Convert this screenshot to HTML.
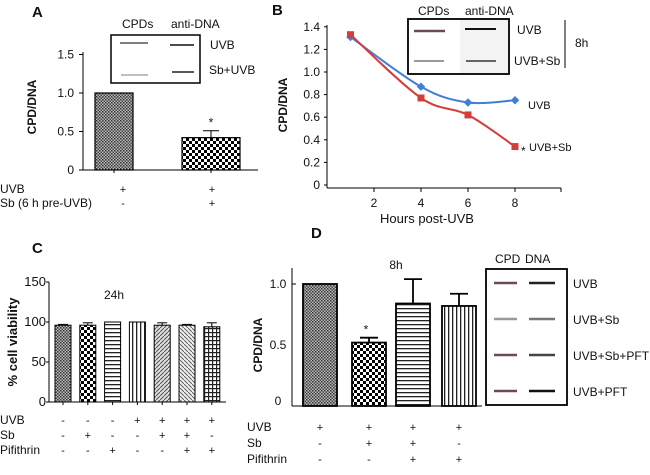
<!DOCTYPE html>
<html><head><meta charset="utf-8"><style>
body{margin:0;background:#fff}
svg{display:block;font-family:"Liberation Sans",Arial,sans-serif}
</style></head><body>
<svg id="fig" width="650" height="475" viewBox="0 0 650 475">
<defs>
<pattern id="pDense" width="3" height="3" patternUnits="userSpaceOnUse"><rect width="3" height="3" fill="#bbb"/><rect width="1.5" height="1.5" fill="#333"/><rect x="1.5" y="1.5" width="1.5" height="1.5" fill="#444"/></pattern>
<pattern id="pCheck" width="6" height="6" patternUnits="userSpaceOnUse"><rect width="6" height="6" fill="#fff"/><rect width="3" height="3" fill="#000"/><rect x="3" y="3" width="3" height="3" fill="#000"/></pattern>
<pattern id="pHor" width="4" height="4" patternUnits="userSpaceOnUse"><rect width="4" height="4" fill="#fff"/><rect y="0" width="4" height="1.3" fill="#222"/></pattern>
<pattern id="pVer" width="4" height="4" patternUnits="userSpaceOnUse"><rect width="4" height="4" fill="#fff"/><rect x="0" width="1.3" height="4" fill="#222"/></pattern>
<pattern id="pDiag" width="4" height="4" patternUnits="userSpaceOnUse"><rect width="4" height="4" fill="#ddd"/><path d="M0,4 L4,0" stroke="#555" stroke-width="1"/></pattern>
<pattern id="pDiag2" width="4" height="4" patternUnits="userSpaceOnUse"><rect width="4" height="4" fill="#eee"/><path d="M0,0 L4,4" stroke="#666" stroke-width="1"/></pattern>
<pattern id="pGrid" width="4" height="4" patternUnits="userSpaceOnUse"><rect width="4" height="4" fill="#fff"/><rect width="4" height="1.2" fill="#222"/><rect width="1.2" height="4" fill="#222"/></pattern>
</defs>
<g id="A"></g>
<g id="B"></g>
<g id="C"></g>
<g id="D"></g>
</svg>
<script>
// Panel A data
const aValues = [1.0, 0.42];
const aErrors = [0, 0.51];
const aTicks = [0, 0.5, 1.0, 1.5];
const aTickLabels = ["0", "0.5", "1.0", "1.5"];
// Panel B data
const bHours = [1, 4, 6, 8];
const bUVB = [1.31, 0.87, 0.73, 0.75];
const bUVBSb = [1.33, 0.77, 0.62, 0.34];
const bYTicks = [0, 0.2, 0.4, 0.6, 0.8, 1.0, 1.2, 1.4];
const bYTickLabels = ["0", "0.2", "0.4", "0.6", "0.8", "1.0", "1.2", "1.4"];
const bXTicks = [2, 4, 6, 8];
// Panel C data
const cValues = [96, 96, 100, 100, 96, 96, 94];
const cErrTop = [97, 99, 100, 100, 99, 97, 99];
const cTicks = [0, 50, 100, 150];
const cUVB = ["-", "-", "-", "+", "+", "+", "+"];
const cSb = ["-", "+", "-", "-", "+", "+", "-"];
const cPif = ["-", "-", "+", "-", "-", "+", "+"];
// Panel D data
const dValues = [1.0, 0.52, 0.84, 0.82];
const dErrTop = [1.0, 0.56, 1.04, 0.92];
const dTicks = [0, 0.5, 1.0];
const dTickLabels = ["0", "0.5", "1.0"];
const dUVB = ["+", "+", "+", "+"];
const dSb = ["-", "+", "+", "-"];
const dPif = ["-", "-", "+", "+"];

const NS = "http://www.w3.org/2000/svg";
function mk(parent, tag, attrs, text){
  const e = document.createElementNS(NS, tag);
  for (const k in attrs) e.setAttribute(k, attrs[k]);
  if (text !== undefined) e.textContent = text;
  parent.appendChild(e);
  return e;
}
function line(p,x1,y1,x2,y2,st,w){return mk(p,"line",{x1,y1,x2,y2,stroke:st||"#000","stroke-width":w||1});}
function txt(p,x,y,s,opt){
  opt=opt||{};
  const t=mk(p,"text",{x,y,"font-size":opt.size||11,"text-anchor":opt.anchor||"start","font-weight":opt.bold?"bold":"normal",fill:"#111"},s);
  if(opt.rot) t.setAttribute("transform","rotate(-90 "+x+" "+y+")");
  return t;
}

// ===== Panel A =====
const A = document.getElementById("A");
const ay = v => 170 - v*77;
txt(A,32,17,"A",{size:15,bold:true});
let ttl = txt(A,36,107,"CPD/DNA",{bold:true,size:12,anchor:"middle",rot:true});


line(A,83,52,83,170);
line(A,83,170,258,170);
aTicks.forEach((t,i)=>{
  line(A,79,ay(t),83,ay(t));
  const l=txt(A,74,ay(t)+4,aTickLabels[i],{anchor:"end",size:12});
  
  
});
const aX=[95,182], aW=[38,58], aFill=["url(#pDense)","url(#pCheck)"];
aValues.forEach((v,i)=>{
  const r=mk(A,"rect",{x:aX[i],y:ay(v),width:aW[i],height:170-ay(v),fill:aFill[i],stroke:"#000","stroke-width":1.2});
  
  
  line(A,aX[i]+aW[i]/2,170,aX[i]+aW[i]/2,173);
  if(aErrors[i]){
    const cx=aX[i]+aW[i]/2;
    line(A,cx,ay(v),cx,ay(aErrors[i]));
    line(A,cx-8,ay(aErrors[i]),cx+8,ay(aErrors[i]));
    txt(A,cx,ay(aErrors[i])-4,"*",{anchor:"middle",size:12});
  }
});
txt(A,0,193,"UVB",{size:12});txt(A,0,207,"Sb (6 h pre-UVB)",{size:12});
txt(A,123,193,"+",{anchor:"middle"});txt(A,123,207,"-",{anchor:"middle"});
txt(A,212,193,"+",{anchor:"middle"});txt(A,212,207,"+",{anchor:"middle"});
// inset
mk(A,"rect",{x:111,y:35,width:89,height:48,fill:"#fff",stroke:"#000","stroke-width":1.5});
line(A,120,43,148,43,"#555",1.5);line(A,121,75,148,75,"#aaa",1.5);
line(A,170,45,194,45,"#111",1.5);line(A,172,72,194,72,"#222",1.5);
txt(A,122,28,"CPDs",{size:12});txt(A,171,28,"anti-DNA",{size:12});
txt(A,210,49,"UVB",{size:12});txt(A,209,74,"Sb+UVB",{size:12});

// ===== Panel B =====
const B = document.getElementById("B");
const bx = h => 327 + h*23.5;
const by = v => 185 - v*113;
txt(B,272,15,"B",{size:15,bold:true});
ttl=txt(B,287,105,"CPD/DNA",{bold:true,size:12,anchor:"middle",rot:true});


line(B,327,25,327,188);
line(B,327,188,561,188);
bYTicks.forEach((t,i)=>{
  line(B,324,by(t),327,by(t));
  const l=txt(B,320,by(t)+4,bYTickLabels[i],{anchor:"end",size:12});
  
  
});
line(B,561,188,561,192);
bXTicks.forEach(t=>{
  line(B,bx(t),188,bx(t),192);
  const l=txt(B,bx(t),207,String(t),{anchor:"middle",size:12});
  
  
});
txt(B,427,223,"Hours post-UVB",{anchor:"middle",size:13});
function smooth(xs,ys){
  const P=xs.map((x,i)=>[bx(x),by(ys[i])]);
  let d="M"+P[0][0]+","+P[0][1];
  for(let i=0;i<P.length-1;i++){
    const p0=P[Math.max(i-1,0)],p1=P[i],p2=P[i+1],p3=P[Math.min(i+2,P.length-1)];
    const c1=[p1[0]+(p2[0]-p0[0])/6,p1[1]+(p2[1]-p0[1])/6];
    const c2=[p2[0]-(p3[0]-p1[0])/6,p2[1]-(p3[1]-p1[1])/6];
    d+=" C"+c1+" "+c2+" "+p2;
  }
  return d;
}
let s=mk(B,"path",{d:smooth(bHours,bUVB),fill:"none",stroke:"#3f7fd8","stroke-width":2});


bHours.forEach((h,i)=>{
  const m=mk(B,"rect",{x:bx(h)-3,y:by(bUVB[i])-3,width:6,height:6,fill:"#3f7fd8",transform:"rotate(45 "+bx(h)+" "+by(bUVB[i])+")"});
  
  
});
s=mk(B,"path",{d:smooth(bHours,bUVBSb),fill:"none",stroke:"#d43d3a","stroke-width":2});


bHours.forEach((h,i)=>{
  const m=mk(B,"rect",{x:bx(h)-3.5,y:by(bUVBSb[i])-3.5,width:7,height:7,fill:"#d43d3a"});
  
  
});
txt(B,528,109,"UVB",{size:11});
txt(B,521,155,"*",{size:12});
txt(B,529,151,"UVB+Sb",{size:11});
mk(B,"rect",{x:408,y:19,width:101,height:55,fill:"#fff",stroke:"#000","stroke-width":1.8});
mk(B,"rect",{x:460,y:20,width:48,height:53,fill:"#f3f3f3"});
line(B,414,31,445,31,"#6a4a55",2.5);line(B,414,61,444,61,"#999",2);
line(B,465,29,496,29,"#111",2);line(B,466,61,496,61,"#666",2);
txt(B,418,15,"CPDs",{size:12});txt(B,465,15,"anti-DNA",{size:12});
txt(B,517,34,"UVB",{size:12});txt(B,514,65,"UVB+Sb",{size:12});
line(B,565,20,565,68);
txt(B,575,47,"8h",{size:12});

// ===== Panel C =====
const C = document.getElementById("C");
const cy = v => 402 - v*0.8;
txt(C,32,253,"C",{size:15,bold:true});
ttl=txt(C,17,342,"% cell viability",{bold:true,size:13,anchor:"middle",rot:true});


line(C,49,282,49,402);line(C,49,402,226,402);
cTicks.forEach(t=>{
  line(C,46,cy(t),49,cy(t));
  const l=txt(C,46,cy(t)+4,String(t),{anchor:"end",size:13});
  
  
});
txt(C,114,299,"24h",{anchor:"middle",size:12});
const cFill=["url(#pDense)","url(#pCheck)","url(#pHor)","url(#pVer)","url(#pDiag)","url(#pDiag2)","url(#pGrid)"];
cValues.forEach((v,i)=>{
  const cx=63+i*24.8;
  const r=mk(C,"rect",{x:cx-8,y:cy(v),width:16,height:402-cy(v),fill:cFill[i],stroke:"#000","stroke-width":1});
  
  
  line(C,cx,402,cx,405);
  if(cErrTop[i]>v){line(C,cx,cy(v),cx,cy(cErrTop[i]));line(C,cx-5,cy(cErrTop[i]),cx+5,cy(cErrTop[i]));}
  txt(C,cx,424,cUVB[i],{anchor:"middle"});txt(C,cx,439,cSb[i],{anchor:"middle"});txt(C,cx,454,cPif[i],{anchor:"middle"});
});
txt(C,0,424,"UVB",{size:12});txt(C,0,439,"Sb",{size:12});txt(C,0,454,"Pifithrin",{size:12});

// ===== Panel D =====
const D = document.getElementById("D");
const dy = v => 406 - v*122;
txt(D,311,238,"D",{size:15,bold:true});
ttl=txt(D,262,345,"CPD/DNA",{bold:true,size:12,anchor:"middle",rot:true});


line(D,292,268,292,406);line(D,292,406,482,406);
line(D,292,284,296,284);
dTicks.forEach((t,i)=>{
  const l=txt(D,278,dy(t)+(t===0?-1:4),dTickLabels[i],{anchor:"middle",size:12});
  
  
});
txt(D,396,269,"8h",{anchor:"middle",size:12});
const dFill=["url(#pDense)","url(#pCheck)","url(#pHor)","url(#pVer)"];
const dC=[320,369,413,459];
dValues.forEach((v,i)=>{
  const cx=dC[i];
  const r=mk(D,"rect",{x:cx-17,y:dy(v),width:34,height:406-dy(v),fill:dFill[i],stroke:"#000","stroke-width":1.8});
  
  
  if(dErrTop[i]>v){line(D,cx,dy(v),cx,dy(dErrTop[i]),"#000",1.8);line(D,cx-9,dy(dErrTop[i]),cx+9,dy(dErrTop[i]),"#000",1.8);}
  if(i===1) txt(D,cx-3,dy(dErrTop[i])-4,"*",{anchor:"middle",size:12});
  txt(D,cx,431,dUVB[i],{anchor:"middle"});
  txt(D,cx,447,dSb[i],{anchor:"middle"});
  txt(D,cx,463,dPif[i],{anchor:"middle"});
});
txt(D,247,431,"UVB",{size:12});txt(D,247,447,"Sb",{size:12});txt(D,247,463,"Pifithrin",{size:12});
mk(D,"rect",{x:486,y:269,width:81,height:136,fill:"#fff",stroke:"#000","stroke-width":1.8});
const lanesY=[283,319,355,391];
const cpdCol=["#6a4a55","#999","#6a4a55","#6a4a55"], dnaCol=["#222","#777","#444","#111"];
lanesY.forEach((y,i)=>{line(D,494,y,517,y,cpdCol[i],2.5);line(D,529,y,555,y,dnaCol[i],2.5);});
txt(D,495,263,"CPD",{size:12});txt(D,525,263,"DNA",{size:12});
const dLab=["UVB","UVB+Sb","UVB+Sb+PFT","UVB+PFT"];
lanesY.forEach((y,i)=>txt(D,573,y+5,dLab[i],{size:12}));
</script>
</body></html>
